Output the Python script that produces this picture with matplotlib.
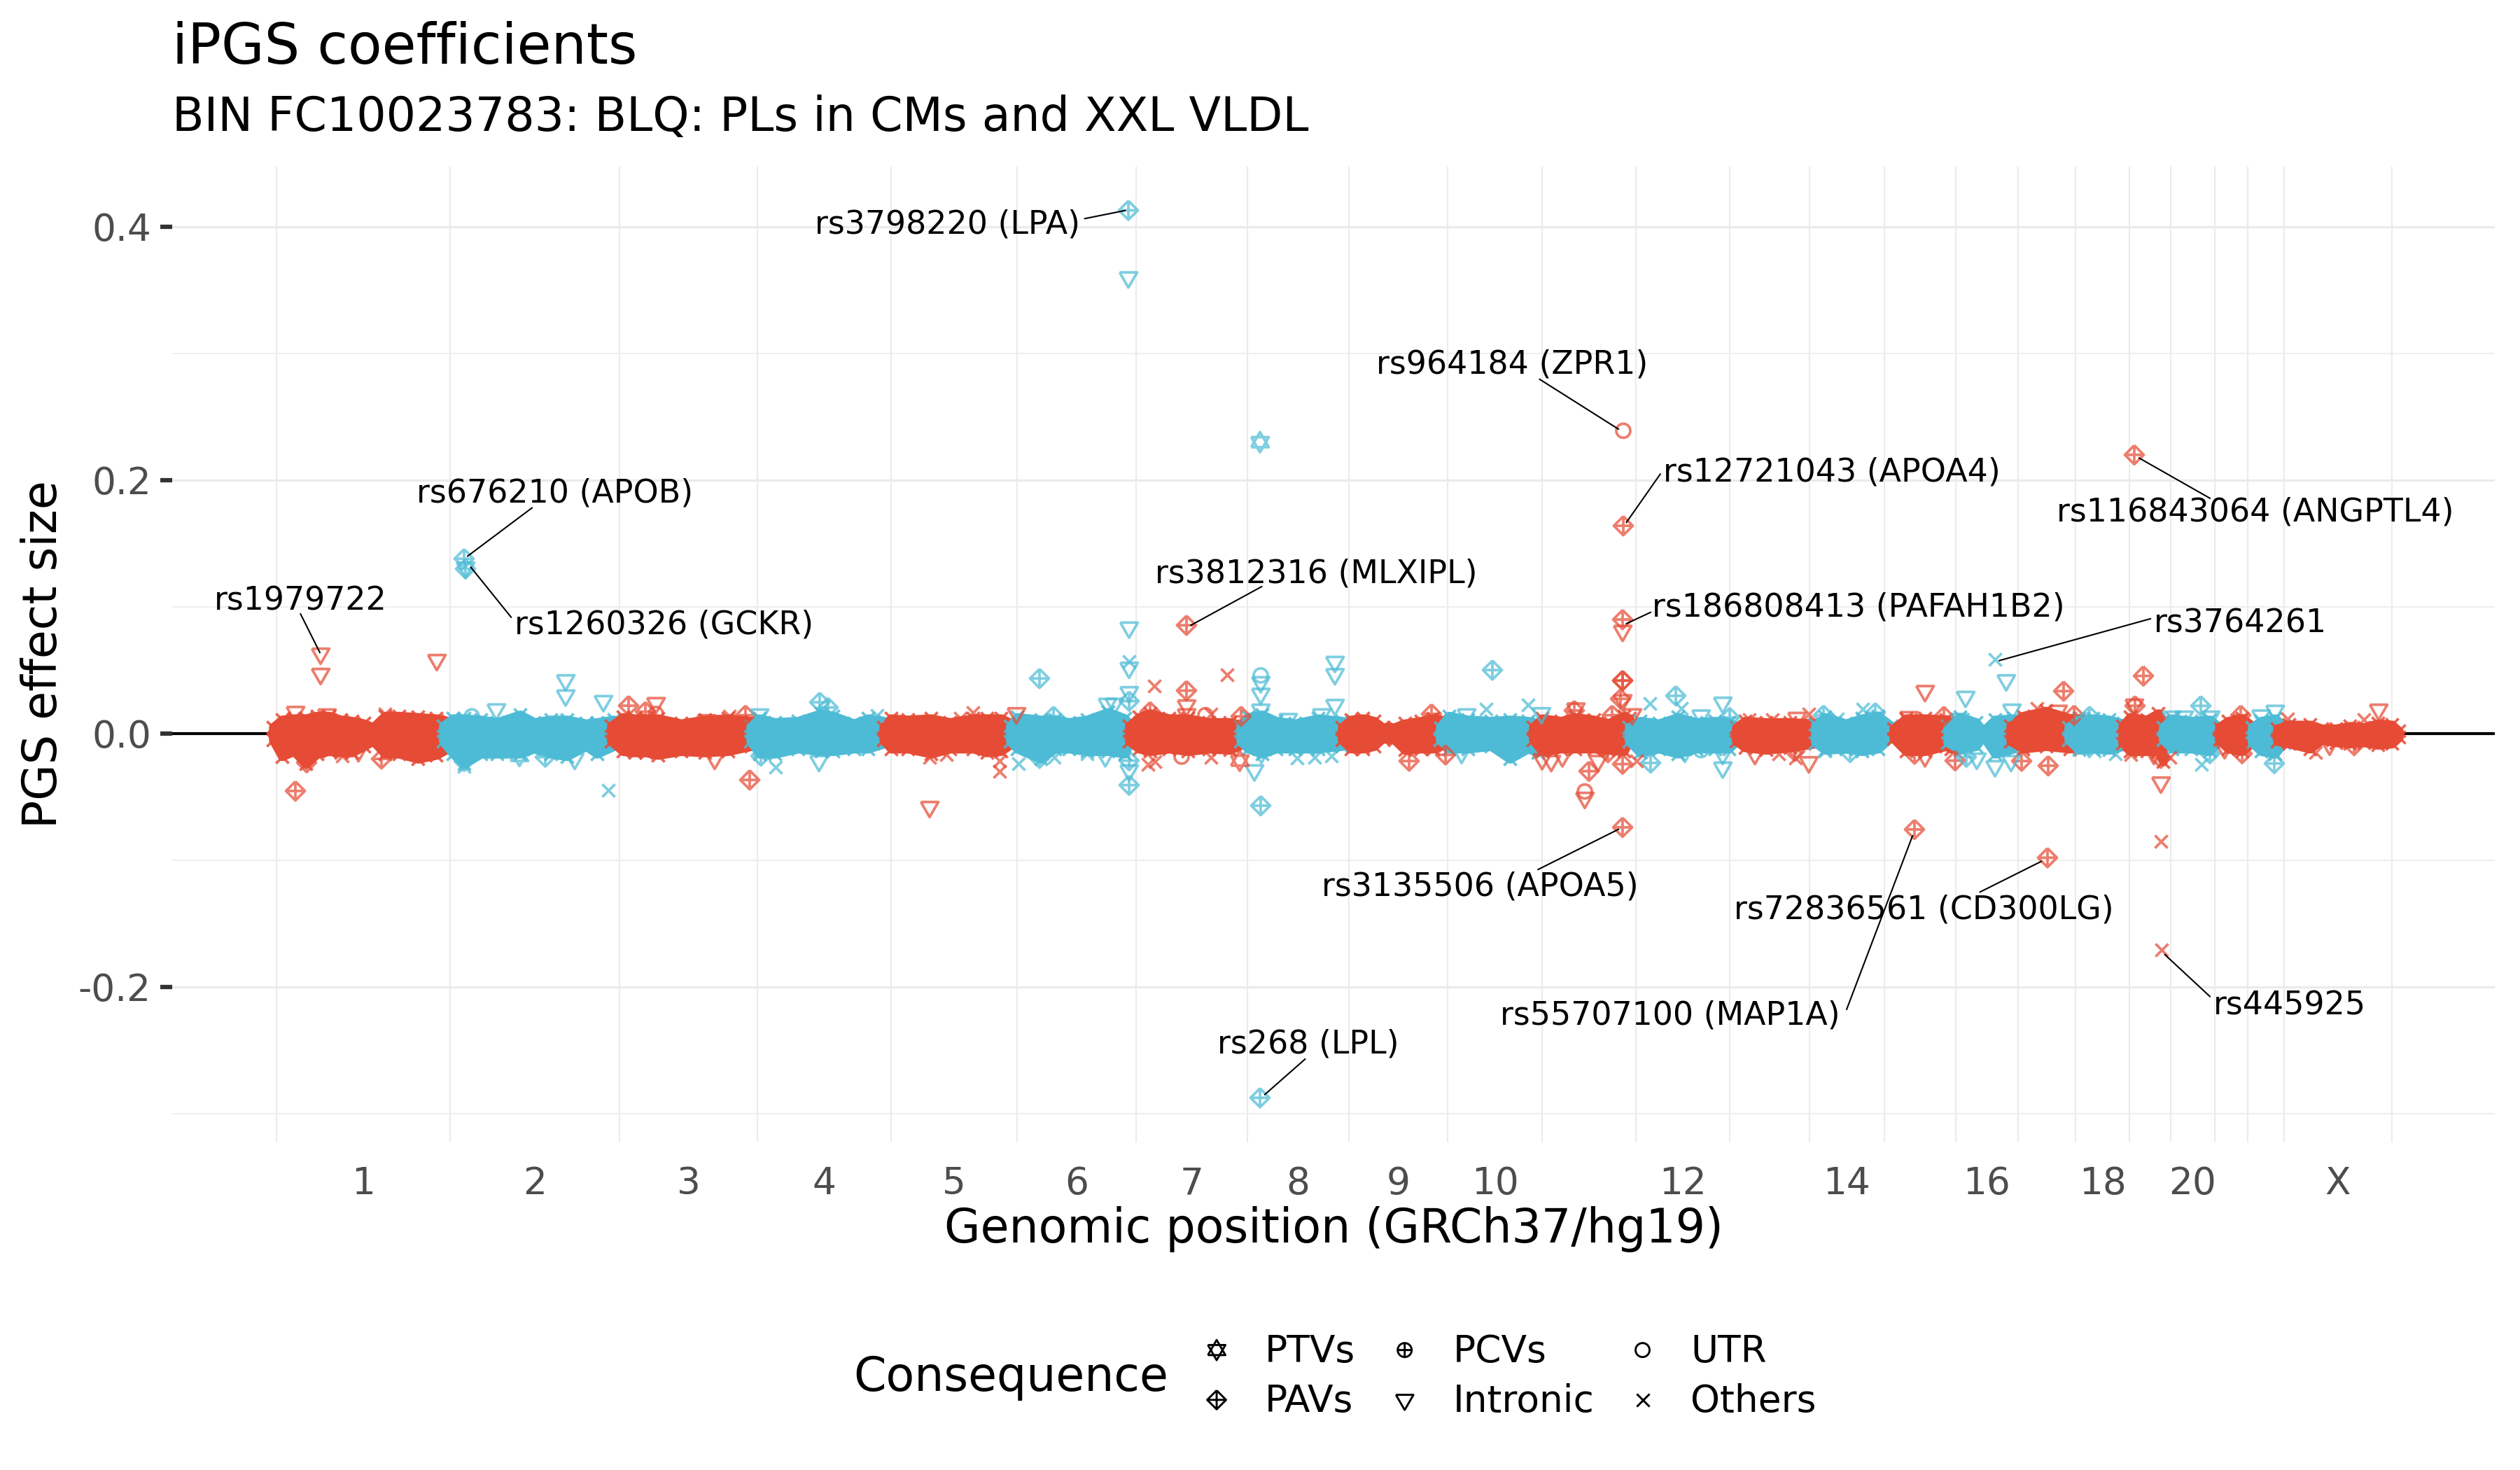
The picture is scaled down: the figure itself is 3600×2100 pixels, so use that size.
#!/usr/bin/env python3
import matplotlib
matplotlib.use("Agg")
import matplotlib.pyplot as plt
from matplotlib.path import Path

# x is in genome units (about 1 Mb per pixel at 3600 wide), 0 = start of chr1
chrom_bounds = [0, 248, 490, 687, 878, 1058, 1228, 1387, 1532, 1673, 1808, 1942, 2076,
                2190, 2297, 2399, 2488, 2570, 2647, 2706, 2769, 2816, 2868, 3022]
chrom_labels = ["1", "2", "3", "4", "5", "6", "7", "8", "9", "10", "", "12", "",
                "14", "", "16", "", "18", "", "20", "", "", "X"]

# the core of each chromosome is too dense to read point by point,
# so only its outline (x, upper edge, lower edge) is estimated from the picture
band_x = [
    [-5, 8, 25, 42, 58, 75, 92, 108, 125, 138, 155, 175, 202, 228, 245],
    [238, 252, 268, 292, 315, 348, 368, 392, 415, 442, 458, 482],
    [478, 495, 512, 528, 545, 578, 612, 645, 678],
    [677, 690, 712, 745, 778, 795, 825, 845, 868],
    [867, 878, 902, 935, 962, 995, 1015, 1035, 1050],
    [1048, 1058, 1092, 1112, 1132, 1158, 1188, 1212, 1220],
    [1218, 1232, 1248, 1275, 1302, 1332, 1362, 1382],
    [1377, 1388, 1408, 1428, 1455, 1488, 1522],
    [1522, 1535, 1552, 1568, 1580, 1597, 1612, 1635, 1652, 1663],
    [1662, 1675, 1702, 1735, 1762, 1788, 1802],
    [1795, 1808, 1835, 1855, 1882, 1902, 1925, 1933],
    [1932, 1948, 1975, 2002, 2028, 2055, 2075, 2085],
    [2085, 2098, 2128, 2162, 2198],
    [2198, 2212, 2242, 2265, 2288, 2307],
    [2310, 2328, 2355, 2385, 2392],
    [2387, 2405, 2428, 2438, 2455, 2482],
    [2477, 2495, 2528, 2562],
    [2560, 2575, 2595, 2618, 2638],
    [2637, 2648, 2672, 2688, 2695],
    [2695, 2708, 2735, 2762, 2778],
    [2775, 2788, 2808, 2823],
    [2822, 2835, 2855, 2868],
    [2858, 2875, 2905, 2922, 2942, 2962, 2982, 3002, 3022, 3032],
]
band_top = [
    [.005, .011, .012, .012, .014, .014, .011, .010, .008, .005, .014, .014, .013, .012, .010],
    [.006, .012, .012, .011, .009, .015, .009, .011, .011, .008, .009, .011],
    [.006, .013, .012, .012, .012, .008, .011, .012, .010],
    [.006, .012, .009, .010, .016, .014, .008, .012, .010],
    [.005, .012, .011, .012, .009, .012, .012, .012, .008],
    [.006, .013, .011, .011, .009, .011, .017, .012, .006],
    [.006, .013, .016, .012, .012, .009, .009, .006],
    [.006, .013, .015, .010, .008, .012, .010],
    [.005, .011, .012, .010, .005, .005, .008, .010, .012, .011],
    [.005, .014, .011, .010, .011, .010, .008],
    [.005, .012, .010, .013, .011, .008, .014, .012],
    [.005, .010, .008, .013, .009, .010, .009, .006],
    [.005, .010, .009, .009, .008],
    [.007, .013, .008, .012, .014, .006],
    [.004, .012, .012, .011, .006],
    [.006, .013, .009, .002, .011, .012],
    [.006, .014, .018, .012],
    [.005, .012, .012, .011, .008],
    [.006, .013, .011, .016, .010],
    [.005, .012, .010, .011, .004],
    [.005, .010, .012, .006],
    [.005, .010, .012, .006],
    [.004, .007, .007, .004, .004, .006, .005, .008, .007, .002],
]
band_bot = [
    [-.005, -.018, -.014, -.024, -.016, -.014, -.015, -.015, -.010, -.006, -.016, -.016, -.020, -.017, -.012],
    [-.006, -.016, -.024, -.016, -.016, -.016, -.012, -.016, -.018, -.010, -.016, -.010],
    [-.006, -.014, -.015, -.015, -.017, -.014, -.015, -.014, -.010],
    [-.006, -.016, -.016, -.012, -.014, -.014, -.012, -.012, -.008],
    [-.005, -.012, -.012, -.016, -.012, -.012, -.015, -.014, -.008],
    [-.006, -.012, -.020, -.012, -.012, -.014, -.014, -.016, -.006],
    [-.006, -.012, -.014, -.012, -.014, -.012, -.013, -.008],
    [-.006, -.012, -.016, -.012, -.012, -.012, -.010],
    [-.005, -.012, -.012, -.010, -.004, -.005, -.013, -.012, -.012, -.010],
    [-.005, -.012, -.012, -.010, -.020, -.012, -.015],
    [-.005, -.014, -.012, -.012, -.012, -.013, -.014, -.005],
    [-.006, -.015, -.012, -.016, -.012, -.012, -.012, -.006],
    [-.006, -.011, -.013, -.011, -.008],
    [-.007, -.013, -.012, -.014, -.012, -.003],
    [-.004, -.014, -.014, -.010, -.012],
    [-.007, -.013, -.010, -.002, -.016, -.012],
    [-.006, -.012, -.010, -.012],
    [-.005, -.013, -.012, -.013, -.010],
    [-.008, -.014, -.014, -.014, -.022],
    [-.005, -.012, -.012, -.014, -.004],
    [-.005, -.012, -.014, -.007],
    [-.007, -.014, -.016, -.007],
    [-.006, -.008, -.012, -.005, -.007, -.008, -.007, -.009, -.008, -.003],
]

# points standing clear of the band
red_pav_x = [1300, 1924, 2654, 1923, 1923, 2340, 2530, 2667, 27, 150, 43, 676, 503, 527, 670, 1300, 1248, 1378,
             1650, 1618, 1670, 1854, 1875, 1902, 1923, 1923, 1920, 1908, 1923, 2169, 2382, 2340, 2398, 2553, 2531,
             2493, 2568, 2655, 2692, 2808, 2806, 2968]
red_pav_y = [.0855, .164, .220, .090, -.074, -.0757, -.098, .0455, -.0453, -.020, -.023, -.0366, .022, .0173, .0145,
             .0339, .0173, .0136, .0155, -.0217, -.0168, .0182, -.0297, -.015, .0418, .0418, .0274, .0145, -.0241,
             -.014, .0136, -.0162, -.0214, .0335, -.0254, -.0217, .0145, .0219, -.0195, -.0158, .0145, -.0094]
blue_pav_x = [1217, 268, 270, 1405, 384, 268, 776, 788, 692, 1090, 1110, 1090, 1218, 1218, 1218, 1406, 1737, 1963,
              1999, 2076, 2210, 2284, 2248, 2414, 2590, 2749, 2762, 2854]
blue_pav_y = [.413, .138, .130, -.2875, -.0186, -.022, .0247, .0206, -.0177, .0435, .0136, -.0195, .0256, -.0407,
              -.0214, -.0569, .0501, -.0232, .0298, .0127, .0145, .0164, -.0149, -.0186, .0136, .0219, -.0158, -.0236]
red_int_x = [63, 63, 229, 27, 72, 117, 626, 542, 614, 933, 1057, 1300, 1300, 1808, 1821, 1837, 1856, 1869, 1888,
             1923, 1923, 1937, 2112, 2172, 2189, 2355, 2332, 2355, 2545, 2654, 2682, 2692, 2783, 2933, 3003]
red_int_y = [.063, .047, .058, .017, .015, -.014, -.020, .024, .0105, -.058, .016, .0221, .0151, -.0203, -.0217,
             -.018, .0197, -.0508, -.0217, .081, .0262, .0151, -.0162, .0123, -.0227, .0335, .0129, -.018, .0179,
             .0228, -.0162, -.0387, -.0116, -.0088, .0188]
blue_int_x = [1217, 270, 413, 413, 467, 314, 426, 775, 690, 1187, 1197, 1184, 1218, 1218, 1218, 1218, 1406, 1406,
              1406, 1397, 1407, 1512, 1512, 1512, 1445, 1493, 1700, 1807, 1693, 2012, 2035, 2066, 2066, 2066, 2405,
              2413, 2429, 2455, 2471, 2478, 2479, 2707, 2725, 2763, 2835, 2855]
blue_int_y = [.360, .131, .042, .030, .0256, .019, -.020, -.0217, .015, .0234, .0234, -.018, .0836, .0519, .0326,
              -.0291, .0405, .0313, .0188, -.0291, -.0153, .0565, .0468, .0225, .0114, .0151, .0151, .016, -.0153,
              -.0144, .0142, .0243, -.0269, -.0162, .0114, .0289, -.0199, -.0258, .042, -.0217, .0188, .0133, .0133,
              .0133, .0142, .0179]
red_oth_x = [155, 94, 647, 957, 933, 995, 977, 1033, 1033, 1254, 1358, 1335, 1245, 1255, 1335, 1943, 2104, 2137,
             2189, 2170, 2146, 2515, 2649, 2705, 2692, 2693, 2873, 2913, 2982]
red_oth_y = [.0155, -.0177, .0136, -.0168, -.0186, .0164, .012, -.0297, -.0214, .0376, .0464, .0155, -.0241, -.0223,
             -.0186, -.0214, .0109, .0109, .0155, -.0195, -.0158, .02, -.0168, -.0186, -.0849, -.171, .0118, -.015,
             .0109]
blue_oth_x = [474, 268, 713, 858, 1060, 1111, 1158, 1218, 1458, 1483, 1507, 1728, 1788, 1962, 2007, 2230, 2266,
              2212, 2455, 2597, 2627, 2750]
blue_oth_y = [-.045, -.026, -.0263, .0145, -.0236, -.0186, -.0158, .0569, -.0195, -.019, -.0177, .0192, .0228, .0238,
              .02, .0118, .0192, -.014, .0587, -.014, -.0158, -.0245]
red_utr_x = [1924, 542, 1327, 1293, 1869]
red_utr_y = [.239, .0155, .0145, -.0182, -.0457]
blue_utr_x = [279, 1406, 2035]
blue_utr_y = [.0136, .0459, -.0131]
red_ptv_x = [1376]
red_ptv_y = [-.0214]
blue_ptv_x = [1405, 347]
blue_ptv_y = [.230, -.0177]

yticks = [-0.2, 0.0, 0.2, 0.4]
yticks_minor = [-0.3, -0.1, 0.1, 0.3]

legend_names = ["PTVs", "PAVs", "PCVs", "Intronic", "UTR", "Others"]

# label, text x, text y, ha, line from, line to (pixels of the full size picture / 2.296)
labels = [
    ("rs3798220 (LPA)", 672, 139, "right", (675, 136), (700, 131)),
    ("rs964184 (ZPR1)", 941, 226, "center", (958, 236), (1007, 267)),
    ("rs12721043 (APOA4)", 1035, 293, "left", (1033, 295), (1012, 325)),
    ("rs116843064 (ANGPTL4)", 1403, 318, "center", (1375, 310), (1331, 285)),
    ("rs676210 (APOB)", 345, 306, "center", (331, 316), (291, 346)),
    ("rs1260326 (GCKR)", 320, 388, "left", (318, 384), (293, 353)),
    ("rs1979722", 187, 373, "center", (187, 382), (199, 406)),
    ("rs3812316 (MLXIPL)", 819, 356, "center", (785, 365), (741, 389)),
    ("rs186808413 (PAFAH1B2)", 1028, 377, "left", (1027, 381), (1012, 388)),
    ("rs3764261", 1340, 387, "left", (1338, 385), (1244, 411)),
    ("rs3135506 (APOA5)", 921, 551, "center", (957, 541), (1007, 516)),
    ("rs72836561 (CD300LG)", 1197, 565, "center", (1232, 555), (1270, 536)),
    ("rs55707100 (MAP1A)", 1145, 631, "right", (1149, 628), (1190, 520)),
    ("rs445925", 1377, 625, "left", (1375, 620), (1347, 594)),
    ("rs268 (LPL)", 814, 649, "center", (812, 659), (787, 681)),
]

RED = "#E64B35"
BLUE = "#4DBBD5"
M, L = Path.MOVETO, Path.LINETO

tri = [(-.866, .5), (.866, .5), (0, -1), (-.866, .5)]
tri_up = [(-.866, -.5), (.866, -.5), (0, 1), (-.866, -.5)]
MARK_INT = Path(tri, [M, L, L, L])
MARK_PTV = Path(tri + tri_up, [M, L, L, L] * 2)
MARK_PAV = Path([(0, 1), (1, 0), (0, -1), (-1, 0), (0, 1), (-1, 0), (1, 0), (0, -1), (0, 1)],
                [M, L, L, L, L, M, L, M, L])
circle = Path.unit_circle()
MARK_PCV = Path.make_compound_path(circle, Path([(-1, 0), (1, 0), (0, -1), (0, 1)], [M, L, M, L]))
SIZES = {"int": 48, "ptv": 48, "pav": 42, "pcv": 23, "utr": 23, "oth": 19}
MARKS = {"int": MARK_INT, "ptv": MARK_PTV, "pav": MARK_PAV, "pcv": MARK_PCV, "utr": circle, "oth": "x"}


def draw_points(ax, xs, ys, kind, color):
    if kind == "oth":
        ax.scatter(xs, ys, s=SIZES[kind], marker="x", c=color, linewidths=0.9, alpha=0.72, zorder=4)
    else:
        ax.scatter(xs, ys, s=SIZES[kind], marker=MARKS[kind], facecolors="none", edgecolors=color,
                   linewidths=0.9, alpha=0.72, zorder=4)


def main():
    fig = plt.figure(figsize=(12, 7), dpi=300)
    ax = fig.add_axes([246 / 3600, 1 - 1632 / 2100, (3564 - 246) / 3600, (1632 - 238) / 2100])

    mids = [(a + b) / 2 for a, b in zip(chrom_bounds[:-1], chrom_bounds[1:])]
    ax.set_xticks(mids, chrom_labels)
    ax.set_xticks(chrom_bounds, minor=True)
    ax.set_yticks(yticks, ["-0.2", "0.0", "0.2", "0.4"])
    ax.set_yticks(yticks_minor, minor=True)
    ax.tick_params(axis="x", which="major", length=0, labelsize=12.8, labelcolor="#4D4D4D", pad=8)
    ax.tick_params(axis="y", which="major", length=4.2, width=1.5, color="#333333", labelsize=12.8,
                   labelcolor="#4D4D4D", pad=3)
    ax.tick_params(which="minor", length=0)
    ax.grid(True, axis="y", which="major", color="#EBEBEB", lw=0.8, zorder=0)
    ax.grid(True, axis="y", which="minor", color="#EBEBEB", lw=0.4, zorder=0)
    ax.grid(True, axis="x", which="minor", color="#EBEBEB", lw=0.5, zorder=0)
    ax.grid(False, axis="x", which="major")
    ax.set_axisbelow(True)
    for s in ax.spines.values():
        s.set_visible(False)

    ax.axhline(0, color="black", lw=1.0, zorder=1)

    # later chromosomes lie on top of earlier ones
    for i, (xs, top, bot) in enumerate(zip(band_x, band_top, band_bot)):
        col = RED if i % 2 == 0 else BLUE
        z = 2 + i * 0.01
        ax.fill_between(xs, bot, top, color=col, lw=3.0, zorder=z)
        for edge in (top, bot):
            ax.scatter(xs, edge, s=SIZES["oth"], marker="x", c=col, linewidths=0.9, alpha=0.85, zorder=z)

    draw_points(ax, red_pav_x, red_pav_y, "pav", RED)
    draw_points(ax, blue_pav_x, blue_pav_y, "pav", BLUE)
    draw_points(ax, red_int_x, red_int_y, "int", RED)
    draw_points(ax, blue_int_x, blue_int_y, "int", BLUE)
    draw_points(ax, red_oth_x, red_oth_y, "oth", RED)
    draw_points(ax, blue_oth_x, blue_oth_y, "oth", BLUE)
    draw_points(ax, red_utr_x, red_utr_y, "utr", RED)
    draw_points(ax, blue_utr_x, blue_utr_y, "utr", BLUE)
    draw_points(ax, red_ptv_x, red_ptv_y, "ptv", RED)
    draw_points(ax, blue_ptv_x, blue_ptv_y, "ptv", BLUE)

    def fx(sx):
        return sx * 2.296 / 3600

    def fy(sy):
        return 1 - sy * 2.296 / 2100

    def ty(sy):
        # text centres sit a little high with va="center"
        return fy(sy + 1)

    for txt, tx, tpos, ha, a, b in labels:
        fig.text(fx(tx), ty(tpos), txt, ha=ha, va="center", fontsize=11, color="black", zorder=6)
        ax.plot([fx(a[0]), fx(b[0])], [fy(a[1]), fy(b[1])], transform=fig.transFigure, color="black",
                lw=0.5, clip_on=False, zorder=6)

    fig.text(fx(107), ty(29), "iPGS coefficients", fontsize=19.1, ha="left", va="center")
    fig.text(fx(107), ty(72), "BIN FC10023783: BLQ: PLs in CMs and XXL VLDL", fontsize=16, ha="left", va="center")
    fig.text(fx(830), ty(764), "Genomic position (GRCh37/hg19)", fontsize=16, ha="center", va="center")
    fig.text(fx(27), fy(407), "PGS effect size", fontsize=16, rotation=90, ha="center", va="center")

    # legend laid out by hand: title sits left of the three key columns
    fig.text(fx(531), ty(856), "Consequence", fontsize=16, ha="left", va="center")
    key_x = [757, 757, 874, 874, 1022, 1022]
    key_y = [840, 871, 840, 871, 840, 871]
    text_x = [787, 787, 904, 904, 1052, 1052]
    kinds = ["ptv", "pav", "pcv", "int", "utr", "oth"]
    for kind, name, kx, ky, tx in zip(kinds, legend_names, key_x, key_y, text_x):
        if kind == "oth":
            ax.scatter([fx(kx)], [fy(ky)], s=SIZES[kind], marker="x", c="black", linewidths=0.7,
                       transform=fig.transFigure, clip_on=False)
        else:
            ax.scatter([fx(kx)], [fy(ky)], s=SIZES[kind], marker=MARKS[kind], facecolors="none",
                       edgecolors="black", linewidths=0.7, transform=fig.transFigure, clip_on=False)
        fig.text(fx(tx), ty(ky), name, fontsize=12.8, ha="left", va="center")

    ax.set_xlim(-149, 3169)
    ax.set_ylim(-0.3227, 0.4475)
    fig.savefig("out.png", dpi=300)
    plt.close(fig)


if __name__ == "__main__":
    main()
